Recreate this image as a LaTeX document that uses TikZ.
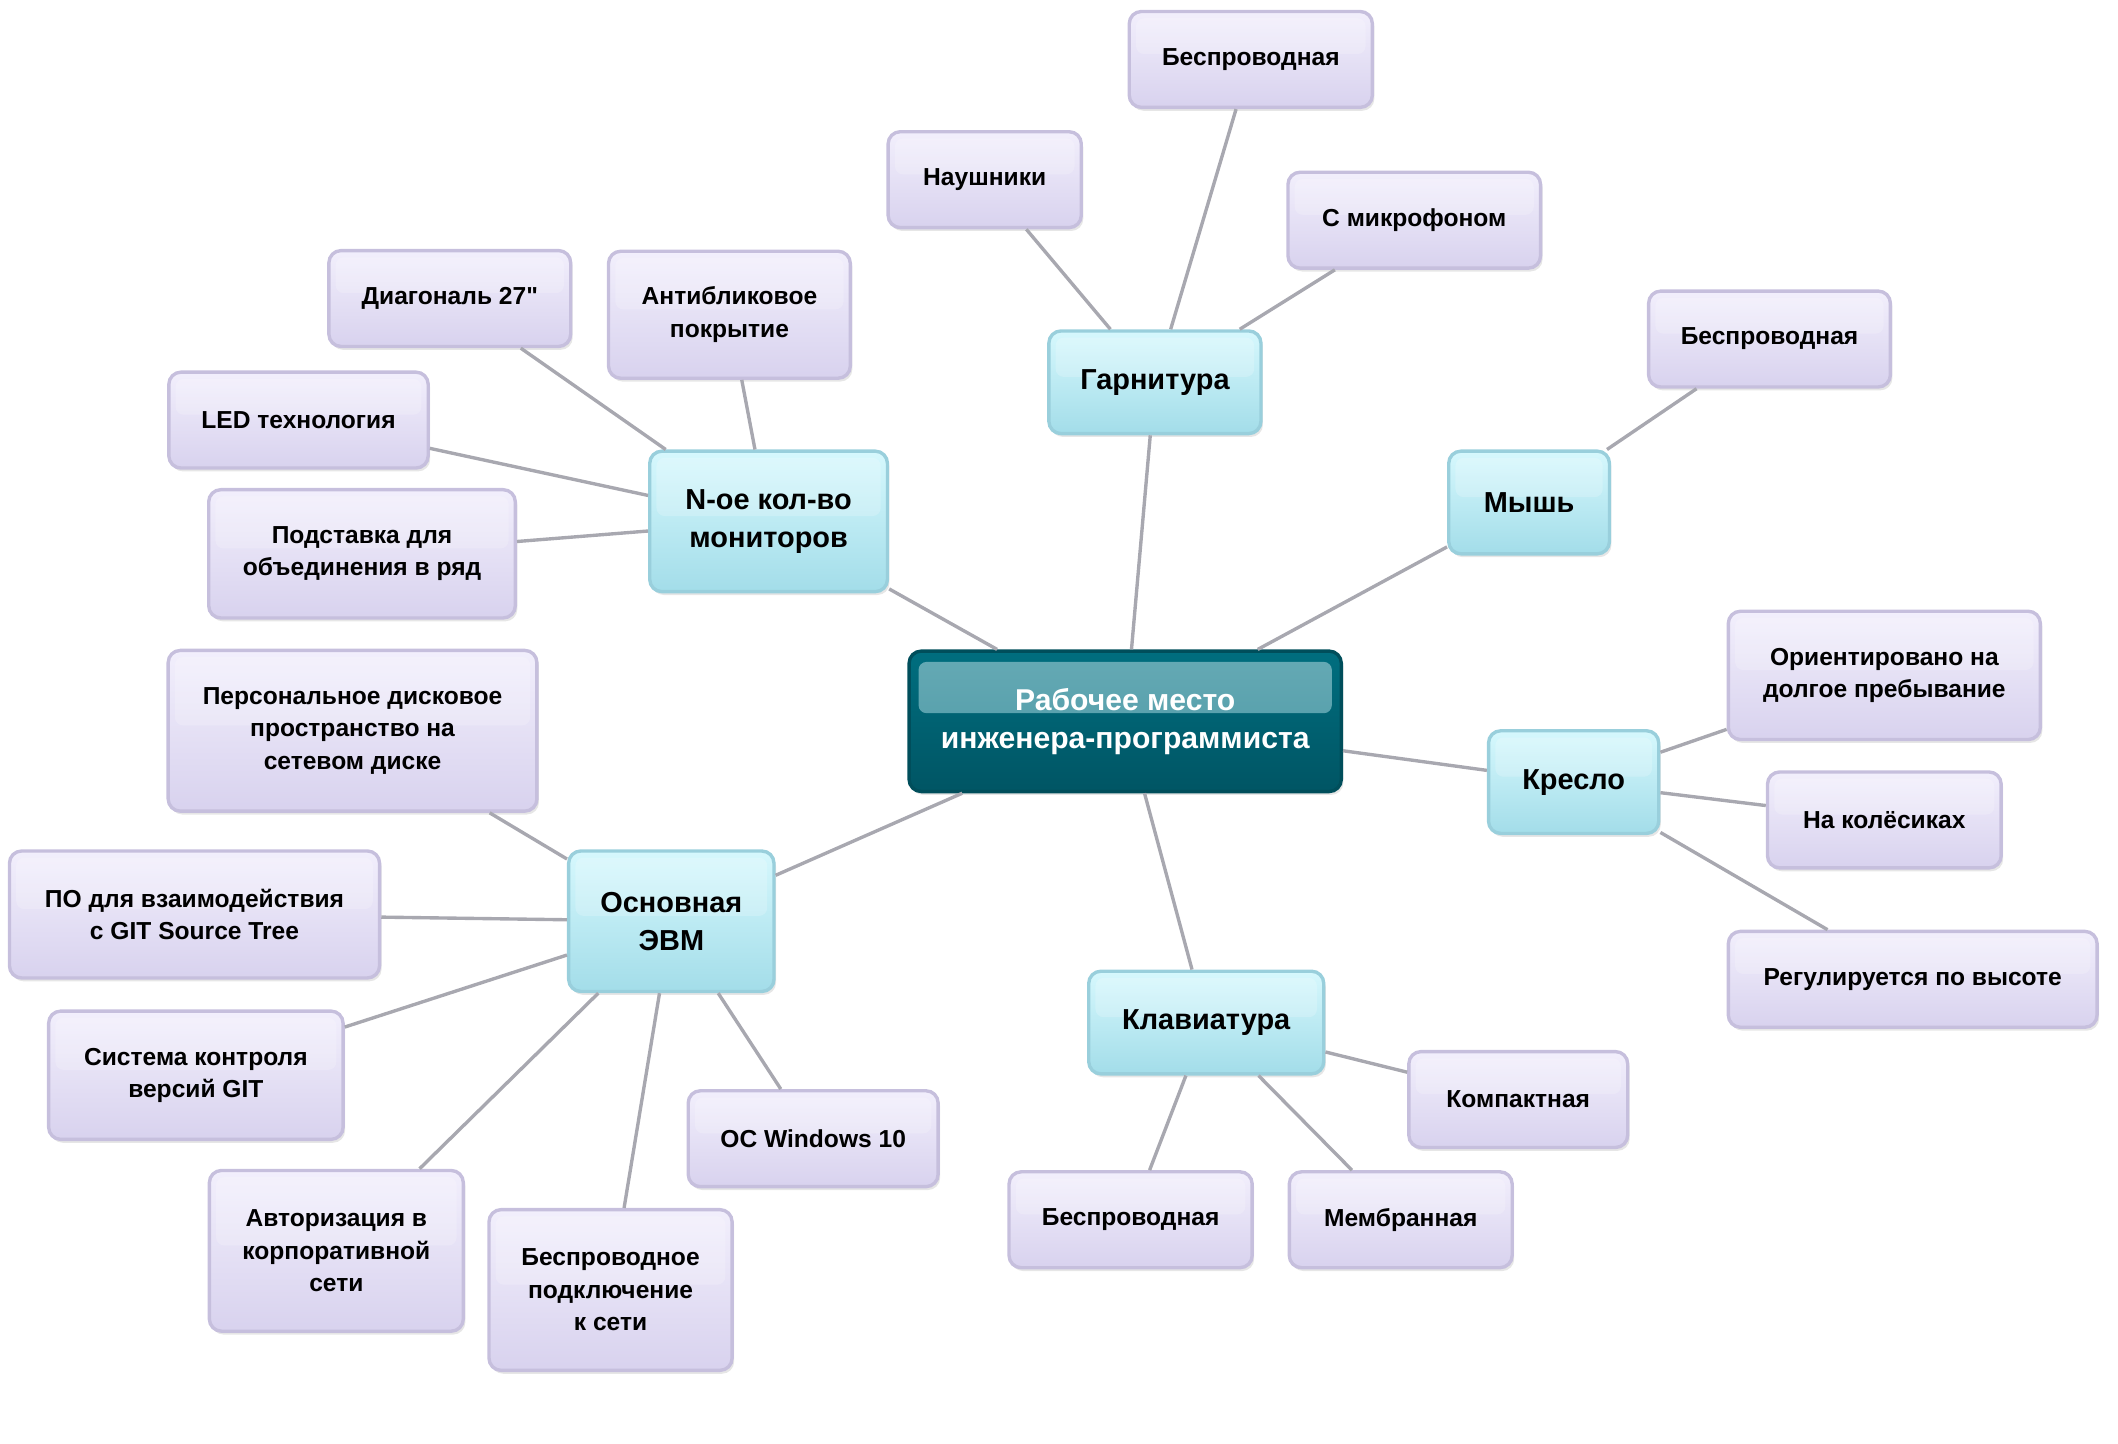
\documentclass[tikz,border=0pt]{standalone}
\usepackage{fontspec}
\setmainfont{Liberation Sans}[Ligatures=TeXOff]
\usetikzlibrary{shadows}
\definecolor{leaftop}{HTML}{F2EFFC}
\definecolor{leafbot}{HTML}{D8D2EE}
\definecolor{leafline}{HTML}{C6BFDD}
\definecolor{maintop}{HTML}{D6F8FD}
\definecolor{mainbot}{HTML}{A3DDE9}
\definecolor{mainline}{HTML}{99CFDC}
\definecolor{roottop}{HTML}{006E7F}
\definecolor{rootbot}{HTML}{005564}
\definecolor{rootline}{HTML}{004E5B}
\definecolor{rootgloss}{HTML}{66AAB5}
\definecolor{rootglossb}{HTML}{4B98A4}
\definecolor{edgegray}{HTML}{A8A8B0}

\begin{document}
\begin{tikzpicture}[x=1pt,y=-1pt]
					\tikzstyle{box} = [rectangle,rounded corners=9pt,line width=2.5pt,align=center,inner sep=0pt,drop shadow={shadow xshift=1.5pt,shadow yshift=-2.5pt,opacity=0.2}]
					\tikzstyle{leaf} = [box,draw=leafline,top color=leaftop,bottom color=leafbot,minimum height=71pt,font=\fontsize{18.2}{24}\selectfont\bfseries,
						path picture={\fill[white,opacity=0.2,rounded corners=6pt] ([shift={(5pt,-5pt)}]path picture bounding box.north west) rectangle ([shift={(-5pt,4pt)}]path picture bounding box.east);}]
					\tikzstyle{topic} = [box,draw=mainline,top color=maintop,bottom color=mainbot,minimum height=76pt,font=\fontsize{21.4}{28}\selectfont\bfseries,
						path picture={\fill[white,opacity=0.2,rounded corners=6pt] ([shift={(5pt,-5pt)}]path picture bounding box.north west) rectangle ([shift={(-5pt,4pt)}]path picture bounding box.east);}]
					\tikzstyle{root} = [box,draw=rootline,top color=roottop,bottom color=rootbot,text=white,font=\fontsize{22.3}{28}\selectfont\bfseries,
						path picture={\shade[top color=rootgloss,bottom color=rootglossb,rounded corners=6pt] ([shift={(7pt,-8pt)}]path picture bounding box.north west) rectangle ([shift={(-7pt,6pt)}]path picture bounding box.east);}]
					\tikzstyle{edge} = [-,draw=edgegray,line width=2.5pt]
					\useasboundingbox (0,0) rectangle (1568,1069);
					% centre
					\node[root,minimum width=320pt,minimum height=104pt] (r) at (833,534) {Рабочее место\\инженера-программиста};
					% headset
					\node[topic,minimum width=157pt] (hs) at (855,283) {Гарнитура};
					\node[leaf,minimum width=180pt] (hs1) at (926,44) {Беспроводная};
					\node[leaf,minimum width=143pt] (hs2) at (729,133) {Наушники};
					\node[leaf,minimum width=187pt] (hs3) at (1047,163) {С микрофоном};
					% mouse
					\node[topic,minimum width=119pt] (ms) at (1132,372) {Мышь};
					\node[leaf,minimum width=179pt] (ms1) at (1310,251) {Беспроводная};
					% chair
					\node[topic,minimum width=126pt] (ch) at (1165,579) {Кресло};
					\node[leaf,minimum width=231pt,minimum height=95pt] (ch1) at (1395,500) {Ориентировано на\\долгое пребывание};
					\node[leaf,minimum width=173pt] (ch2) at (1395,607) {На колёсиках};
					\node[leaf,minimum width=273pt] (ch3) at (1416,725) {Регулируется по высоте};
					% keyboard
					\node[topic,minimum width=174pt] (kb) at (893,757) {Клавиатура};
					\node[leaf,minimum width=162pt] (kb1) at (1124,814) {Компактная};
					\node[leaf,minimum width=165pt] (kb2) at (1037,903) {Мембранная};
					\node[leaf,minimum width=180pt] (kb3) at (837,903) {Беспроводная};
					% computer
					\node[topic,minimum width=152pt,minimum height=104pt] (pc) at (497,682) {Основная\\ЭВМ};
					\node[leaf,minimum width=273pt,minimum height=119pt] (pc1) at (261,541) {Персональное дисковое\\пространство на\\сетевом диске};
					\node[leaf,minimum width=274pt,minimum height=94pt] (pc2) at (144,677) {ПО для взаимодействия\\с GIT Source Tree};
					\node[leaf,minimum width=218pt,minimum height=95pt] (pc3) at (145,796) {Система контроля\\версий GIT};
					\node[leaf,minimum width=188pt,minimum height=119pt] (pc4) at (249,926) {Авторизация в\\корпоративной\\сети};
					\node[leaf,minimum width=180pt,minimum height=119pt] (pc5) at (452,955) {Беспроводное\\подключение\\к сети};
					\node[leaf,minimum width=185pt] (pc6) at (602,843) {ОС Windows 10};
					% monitors
					\node[topic,minimum width=176pt,minimum height=104pt] (mn) at (569,386) {N-ое кол-во\\мониторов};
					\node[leaf,minimum width=179pt] (mn1) at (333,221) {Диагональ 27"};
					\node[leaf,minimum width=179pt,minimum height=94pt] (mn2) at (540,233) {Антибликовое\\покрытие};
					\node[leaf,minimum width=192pt] (mn3) at (221,311) {LED технология};
					\node[leaf,minimum width=227pt,minimum height=95pt] (mn4) at (268,410) {Подставка для\\объединения в ряд};
					\draw[edge] (r)--(hs);
					\draw[edge] (r)--(ms);
					\draw[edge] (r)--(ch);
					\draw[edge] (r)--(kb);
					\draw[edge] (r)--(pc);
					\draw[edge] (r)--(mn);
					\draw[edge] (hs)--(hs1);
					\draw[edge] (hs)--(hs2);
					\draw[edge] (hs)--(hs3);
					\draw[edge] (ms)--(ms1);
					\draw[edge] (ch)--(ch1);
					\draw[edge] (ch)--(ch2);
					\draw[edge] (ch)--(ch3);
					\draw[edge] (kb)--(kb1);
					\draw[edge] (kb)--(kb2);
					\draw[edge] (kb)--(kb3);
					\draw[edge] (pc)--(pc1);
					\draw[edge] (pc)--(pc2);
					\draw[edge] (pc)--(pc3);
					\draw[edge] (pc)--(pc4);
					\draw[edge] (pc)--(pc5);
					\draw[edge] (pc)--(pc6);
					\draw[edge] (mn)--(mn1);
					\draw[edge] (mn)--(mn2);
					\draw[edge] (mn)--(mn3);
					\draw[edge] (mn)--(mn4);
					\end{tikzpicture}
\end{document}
